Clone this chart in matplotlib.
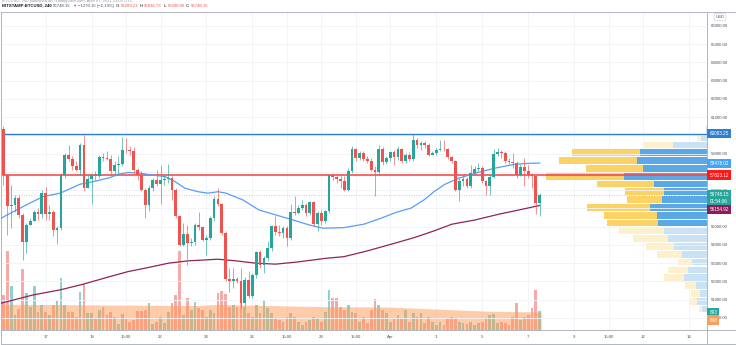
import matplotlib
matplotlib.use("Agg")
import matplotlib.pyplot as plt
import matplotlib.transforms as mtransforms
from matplotlib.lines import Line2D
import numpy as np
import pandas as pd

W, H = 736, 345
plt.rcParams["font.family"] = ["Liberation Sans", "DejaVu Sans"]

# ---- data (BITSTAMP:BTCUSD, 4h candles) ----------------------------------
candle_start = "2021-03-15 04:00"
first_open = 60370

closes = [
    57810, 56110, 56200, 56560, 55610, 54150, 55100, 55320, 55800, 55690,
    56840, 55690, 55800, 54790, 54920, 57850, 58910, 58700, 58300, 58120,
    59490, 57110, 57630, 57810, 57750, 58820, 58760, 58700, 58030, 58390,
    58430, 59220, 59180, 59150, 58080, 57850, 57020, 56200, 57110, 57570,
    57330, 57530, 57630, 57660, 57020, 55560, 54000, 54590, 54090, 54150,
    55100, 54950, 54280, 54370, 55470, 56530, 56230, 54640, 52140, 52040,
    52140, 52040, 50800, 52080, 51220, 52360, 53580, 52900, 53270, 53820,
    55010, 54700, 54650, 54920, 54370, 55800, 55750, 56020, 56200, 55740,
    56330, 55140, 55740, 55280, 55830, 57810, 57700, 57630, 57520, 57020,
    58070, 59270, 58760, 59040, 58720, 58610, 58120, 57990, 59270, 58540,
    58760, 59090, 58800, 59270, 58580, 58940, 58720, 59770, 59490, 59580,
    59460, 58940, 59040, 59220, 59270, 59240, 58800, 58610, 57020, 57480,
    57610, 57200, 57940, 58170, 58210, 57480, 57240, 57700, 59000, 59090,
    59040, 58580, 58540, 58500, 57810, 58250, 58030, 57850, 57750, 56289.21,
    56748.15,
]
highs = [
    60500, 57850, 57300, 56750, 56750, 55740, 55190, 55470, 55920, 56020,
    57020, 57150, 56200, 55920, 55010, 57940, 59030, 59490, 58850, 58580,
    59580, 60000, 57850, 57940, 58030, 58940, 59030, 59130, 58940, 58580,
    58850, 59900, 59860, 59400, 59350, 58210, 58030, 57110, 57300, 57660,
    58120, 58390, 57750, 58430, 57750, 57110, 55560, 55190, 55100, 54370,
    55190, 55800, 55010, 54550, 55560, 56660, 57110, 56290, 54730, 52720,
    52720, 52260, 52720, 52260, 52540, 52450, 53670, 53730, 53360, 54190,
    55100, 55560, 55100, 55010, 55010, 56240, 56660, 56200, 56470, 56290,
    56420, 56420, 55830, 55920, 55920, 57880, 57940, 57850, 57850, 57750,
    58210, 59400, 59310, 59130, 59160, 58850, 58760, 58300, 59490, 59350,
    58850, 59160, 59220, 59400, 59310, 59030, 59090, 60083.25, 59860, 59710,
    59680, 59580, 59130, 59310, 59770, 59770, 59310, 58850, 58670, 57660,
    57750, 57700, 58390, 58300, 58490, 58300, 57570, 57850, 59270, 59310,
    59220, 59130, 58760, 59030, 58580, 58430, 58760, 58390, 57940, 57850,
    56836.73,
]
lows = [
    57300, 54550, 54920, 55800, 55470, 53180, 53550, 55100, 55280, 55380,
    55470, 55380, 55380, 54460, 54040, 54830, 57660, 58580, 58120, 58030,
    57850, 56930, 57110, 56240, 57570, 57660, 58580, 58670, 57850, 57750,
    57850, 58300, 59030, 58940, 57940, 57570, 56930, 55470, 55830, 56930,
    57200, 56240, 57300, 57390, 56470, 55470, 53910, 53910, 52900, 53910,
    54000, 54830, 54190, 53450, 54280, 55280, 56110, 54550, 51990, 51440,
    51620, 51900, 50520, 50620, 51070, 51070, 52170, 52720, 52450, 53090,
    53640, 54550, 54460, 54370, 53910, 54280, 55650, 55690, 55920, 55560,
    55650, 55010, 54730, 55100, 55190, 55740, 57570, 57390, 57110, 56930,
    56930, 57940, 58580, 58670, 58610, 58490, 58030, 56660, 57850, 58400,
    58430, 58610, 58400, 58670, 58490, 58490, 58610, 58610, 59310, 59220,
    59310, 58850, 58910, 58910, 59130, 59130, 58720, 58490, 56930, 56420,
    57200, 57110, 57110, 57850, 58030, 57390, 56750, 56750, 57660, 58850,
    58760, 58490, 58430, 58210, 57660, 57750, 57200, 57660, 57110, 55690,
    55600,
]
volumes = [
    1260, 2850, 1580, 540, 760, 2200, 1320, 840, 1600, 660,
    900, 660, 540, 900, 1080, 1860, 900, 660, 660, 480,
    1380, 1640, 600, 600, 420, 720, 840, 540, 660, 480,
    200, 560, 420, 300, 360, 680, 680, 720, 960, 200,
    300, 480, 240, 660, 960, 1260, 2840, 540, 1140, 720,
    1020, 780, 720, 480, 720, 600, 1320, 1400, 1300, 840,
    900, 840, 1140, 840, 600, 480, 900, 600, 1080, 780,
    600, 420, 360, 300, 480, 600, 480, 300, 180, 300,
    360, 480, 420, 300, 660, 1440, 1140, 1140, 840, 720,
    900, 660, 600, 300, 480, 240, 720, 1120, 900, 720,
    600, 300, 420, 540, 420, 720, 300, 600, 480, 600,
    240, 480, 300, 180, 300, 180, 420, 480, 440, 300,
    240, 200, 300, 180, 240, 300, 420, 540, 560, 240,
    300, 240, 180, 480, 960, 360, 480, 540, 780, 1440,
    693,
]

# moving averages (candle index, price)
ma_fast_idx = [-0.6, 3.4, 7.7, 10.3, 14.8, 20.0, 23.4, 27.8, 29.9, 32.5, 35.9, 38.5, 42.2,
               44.8, 47.4, 50.8, 53.4, 56.0, 58.1, 62.5, 66.7, 70.4, 75.6, 79.8, 83.4,
               88.9, 94.1, 98.6, 102.7, 106.4, 109.8, 112.4, 115.3, 118.9, 123.1, 128.3,
               133.6, 138.0, 140.0]
ma_fast_val = [55460, 55910, 56370, 56640, 56830, 57320, 57460, 57680, 57870, 57960, 57920,
               57830, 57740, 57460, 57100, 56910, 56830, 56910, 56830, 56460, 55910, 55680,
               55360, 55090, 54910, 54940, 55130, 55460, 55790, 56010, 56460, 56910, 57320,
               57650, 57920, 58200, 58420, 58470, 58478.02]
ma_slow_idx = [-0.6, 7.7, 14.8, 20.8, 27.8, 32.5, 37.7, 43.0, 48.2, 56.0, 60.7, 65.9, 71.1,
               76.4, 84.2, 88.9, 94.9, 101.2, 107.2, 112.4, 117.1, 123.1, 129.4, 134.6, 140.0]
ma_slow_val = [50800, 51250, 51530, 51840, 52260, 52530, 52750, 52990, 53120, 53210, 53120,
               52990, 52940, 53050, 53260, 53350, 53660, 54030, 54390, 54760, 55130, 55360,
               55680, 55910, 56154.92]
vol_ma_idx = [-0.6, 28, 50, 56, 70, 84, 100, 112, 126, 140.4]
vol_ma_val = [930, 900, 880, 920, 880, 840, 830, 760, 680, 648]

# visible range volume profile
profile_low = 50268
profile_step = 428
profile_down = [24, 80, 90, 110, 200, 200, 140, 250, 280, 350, 450, 510, 530, 630, 350, 390,
                570, 780, 570, 780, 680, 290, 40, 5]
profile_up = [53, 100, 70, 110, 230, 190, 150, 250, 330, 390, 430, 490, 500, 570, 450, 430,
              530, 830, 640, 700, 670, 340, 60, 10]
value_area = (54970, 59300)

hline_high = 60083.25
hline_poc = 57823.12
countdown = "01:54:06"

price_ticks = list(range(50000, 67000, 1000))
hidden_ticks = [56000, 60000]   # fully covered by price tags in the reference
time_ticks = ["2021-03-17", "2021-03-19", "2021-03-20 12:00", "2021-03-22", "2021-03-24",
              "2021-03-26", "2021-03-27 12:00", "2021-03-29", "2021-03-30 12:00", "2021-04-01",
              "2021-04-03", "2021-04-05", "2021-04-07", "2021-04-09", "2021-04-10 12:00",
              "2021-04-12", "2021-04-14"]
time_labels = ["17", "19", "15:00", "22", "24", "26", "15:00", "29", "15:00", "Apr",
               "3", "5", "7", "9", "15:00", "12", "14"]

GREEN, RED = "#26a69a", "#ef5350"
TXT = "#50535e"
LINE = "#b2b5be"

# ---- derived arrays ---------------------------------------------------------
c = np.array(closes, dtype=float)
o = np.array([first_open] + closes[:-1], dtype=float)
hi = np.maximum(np.array(highs, dtype=float), np.maximum(o, c))
lo = np.minimum(np.array(lows, dtype=float), np.minimum(o, c))
idx = np.arange(len(c))
up = c >= o
start = pd.Timestamp(candle_start)
tick_pos = [(pd.Timestamp(t) - start) / pd.Timedelta(hours=4) for t in time_ticks]

fig = plt.figure(figsize=(W / 100, H / 100), dpi=100, facecolor="white")
rect = [1 / W, 15 / H, 706 / W, 318 / H]

# volume pane (bottom layer)
vax = fig.add_axes(rect, zorder=1)
vax.set_xlim(-0.65, 183.7)
vax.set_ylim(0, 318 * 36)
for x in tick_pos:
    vax.axvline(x, color="#f0f3fa", lw=0.6, zorder=0)
vax.bar(idx, volumes, width=0.72, color=np.where(up, "#90d1ca", "#f7a9a7"), zorder=1)
vax.fill_between(vol_ma_idx, 0, vol_ma_val, color="#ff9a57", alpha=0.5, lw=0, zorder=2)
vax.axis("off")

# volume profile
pax = fig.add_axes(rect, zorder=2, facecolor="none")
rows = np.arange(len(profile_up))
row_mid = profile_low + profile_step * (rows + 0.5)
in_va = (row_mid > value_area[0]) & (row_mid < value_area[1])
pax.barh(row_mid, profile_up, height=profile_step * 0.86, left=0,
         color=np.where(in_va, "#5aa9e6", "#c9e2f5"))
pax.barh(row_mid, profile_down, height=profile_step * 0.86, left=profile_up,
         color=np.where(in_va, "#fad266", "#fdf0cd"))
pax.set_xlim((np.array(profile_up) + np.array(profile_down)).max() / 0.228, 0)
pax.axis("off")

# price pane
ax = fig.add_axes(rect, zorder=3, facecolor="none")
ax.set_xlim(-0.65, 183.7)
ax.set_ylim(49330, 66760)
pax.set_ylim(ax.get_ylim())
for p in price_ticks:
    ax.axhline(p, color="#f0f3fa", lw=0.6, zorder=0)

ax.axhline(hline_high, color="#2f7fd1", lw=1.0, zorder=2)
ax.axhline(hline_poc, color="#f24b4b", lw=1.3, alpha=0.9, zorder=2)
ax.axhline(c[-1], color=GREEN, lw=0.6, ls=(0, (1, 2)), alpha=0.5, zorder=2)

ax.plot(ma_fast_idx, ma_fast_val, color="#5b9cf6", lw=0.9, zorder=3)
ax.plot(ma_slow_idx, ma_slow_val, color="#8e2457", lw=0.9, zorder=3)

colors = np.where(up, GREEN, RED)
ax.vlines(idx, lo, hi, colors=colors, lw=0.6, alpha=0.75, zorder=4)
ax.bar(idx, np.maximum(np.abs(c - o), 20), bottom=np.minimum(o, c), width=0.72,
       color=colors, zorder=5)

ax.yaxis.tick_right()
ax.set_yticks(price_ticks)
ax.set_yticklabels(["" if p in hidden_ticks else f"{p:.2f}" for p in price_ticks])
ax.set_xticks(tick_pos)
ax.set_xticklabels(time_labels)
ax.tick_params(axis="both", length=0, labelsize=3.1, labelcolor=TXT)
ax.tick_params(axis="y", pad=3.0)
ax.tick_params(axis="x", pad=3.5)
for s in ax.spines.values():
    s.set_color(LINE)
    s.set_linewidth(0.7)

# outer frame of the snapshot
for x0, y0, x1, y1 in [(0.5, 12, 0.5, 343.5), (735.5, 12, 735.5, 343.5),
                       (0.5, 343.5, 735.5, 343.5), (707, 330, 735.5, 330),
                       (707, 330, 707, 343.5), (707, 12, 735.5, 12)]:
    fig.add_artist(Line2D([x0 / W, x1 / W], [1 - y0 / H, 1 - y1 / H], color=LINE, lw=0.7))

# right-hand price tags
def price_tag(value, text, color, axes, dy=0, fg="white"):
    tr = mtransforms.blended_transform_factory(fig.transFigure, axes.transData)
    tr = mtransforms.offset_copy(tr, fig=fig, y=dy, units="dots")
    fig.text(709.5 / W, value, text, transform=tr, fontsize=3.3, color=fg, va="center",
             ha="left", linespacing=1.6,
             bbox=dict(boxstyle="square,pad=0.45", fc=color, ec="none"))

price_tag(hline_high, "60083.25", "#2f7fd1", ax)
price_tag(ma_fast_val[-1], "58478.02", "#42a5f5", ax)
price_tag(hline_poc, "57823.12", "#ff1a1a", ax)
price_tag(c[-1], f"{c[-1]:.2f}\n{countdown}", GREEN, ax, dy=-3.5)
price_tag(ma_slow_val[-1], "56154.92", "#8e1c5a", ax, dy=-4)
price_tag(volumes[-1], "693", GREEN, vax, dy=-2)
price_tag(vol_ma_val[-1], "648", "#f99d5c", vax, dy=-8)

fig.text(720 / W, 1 - 17 / H, "USD", fontsize=3.0, color=TXT, ha="center", va="center",
         bbox=dict(boxstyle="round,pad=0.35", fc="white", ec="#d1d4dc", lw=0.5))

# header lines
fig.text(2 / W, 1 - 0.8 / H, "BTCUSD, 240 published on TradingView.com, April 07, 2021 13:05 UTC",
         fontsize=3.0, color="#9598a1", ha="left", va="center")
renderer = fig.canvas.get_renderer()
parts = [("BITSTAMP:BTCUSD, 240", "#131722", "bold"), ("56748.15", TXT, "normal"),
         ("\u25bc", RED, "normal"), ("\u22121270.15 (\u22122.19%)", TXT, "normal"),
         ("O:", "#131722", "normal"), ("56289.21", RED, "normal"),
         ("H:", "#131722", "normal"), ("56836.73", RED, "normal"),
         ("L:", "#131722", "normal"), ("55600.00", RED, "normal"),
         ("C:", "#131722", "normal"), ("56748.15", RED, "normal")]
xpos = 2.0
for txt, col, wt in parts:
    t = fig.text(xpos / W, 1 - 5.6 / H, txt, fontsize=3.1, color=col, fontweight=wt,
                 ha="left", va="center")
    gap = 0.3 if txt.endswith(":") else 1.6
    xpos += t.get_window_extent(renderer).width + gap

fig.savefig("out.png", dpi=100, facecolor="white")
